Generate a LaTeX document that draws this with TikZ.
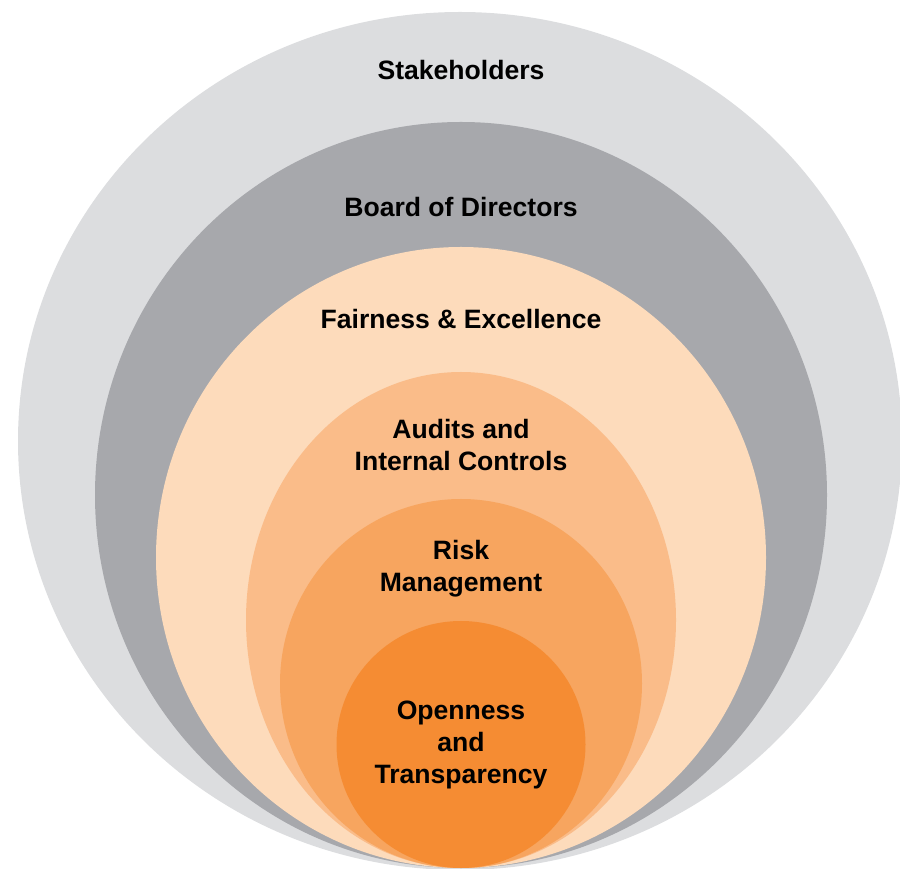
\documentclass[tikz,border=0pt]{standalone}
\usepackage{fontspec}
\setmainfont{Liberation Sans}
\usepackage{tikz}
\usetikzlibrary{positioning}
\usepackage{xcolor}

\definecolor{stakegray}{HTML}{DCDDDF}
\definecolor{boardgray}{HTML}{A7A8AC}
\definecolor{fairpeach}{HTML}{FDDBBB}
\definecolor{auditorange}{HTML}{FABC89}
\definecolor{riskorange}{HTML}{F7A55F}
\definecolor{openorange}{HTML}{F58C33}

\begin{document}
\begin{tikzpicture}[x=0.025cm, y=0.025cm,
        lbl/.style={align=center, inner sep=0pt, font=\fontsize{18.9}{22.7}\selectfont\bfseries, text=black}
    ]
        \useasboundingbox (0, 0) rectangle (900, 868);
        \clip (0, 0) rectangle (900, 868);

        % Anillos anidados, todos tocan el borde inferior
        \fill [stakegray] (460, 427) ellipse (442 and 429);
        \fill [boardgray] (461, 373) ellipse (366 and 373);
        \fill [fairpeach] (461, 310.5) ellipse (305 and 310.5);
        \fill [auditorange] (461, 248) ellipse (215 and 248);
        \fill [riskorange] (461, 184.5) ellipse (181 and 184.5);
        \fill [openorange] (461, 123.5) ellipse (124.5 and 123.5);

        % Textos de cada nivel
        \node [lbl] (stakeholders) at (461, 798) {Stakeholders};
        \node [lbl] (board) at (461, 661) {Board of Directors};
        \node [lbl] (fairness) at (461, 549) {Fairness \& Excellence};
        \node [lbl] (audits) at (461, 423) {Audits and\\Internal Controls};
        \node [lbl] (risk) at (461, 299) {Risk\\Management};
        \node [lbl] (openness) at (461, 123) {Openness\\and\\Transparency};
    \end{tikzpicture}
\end{document}
